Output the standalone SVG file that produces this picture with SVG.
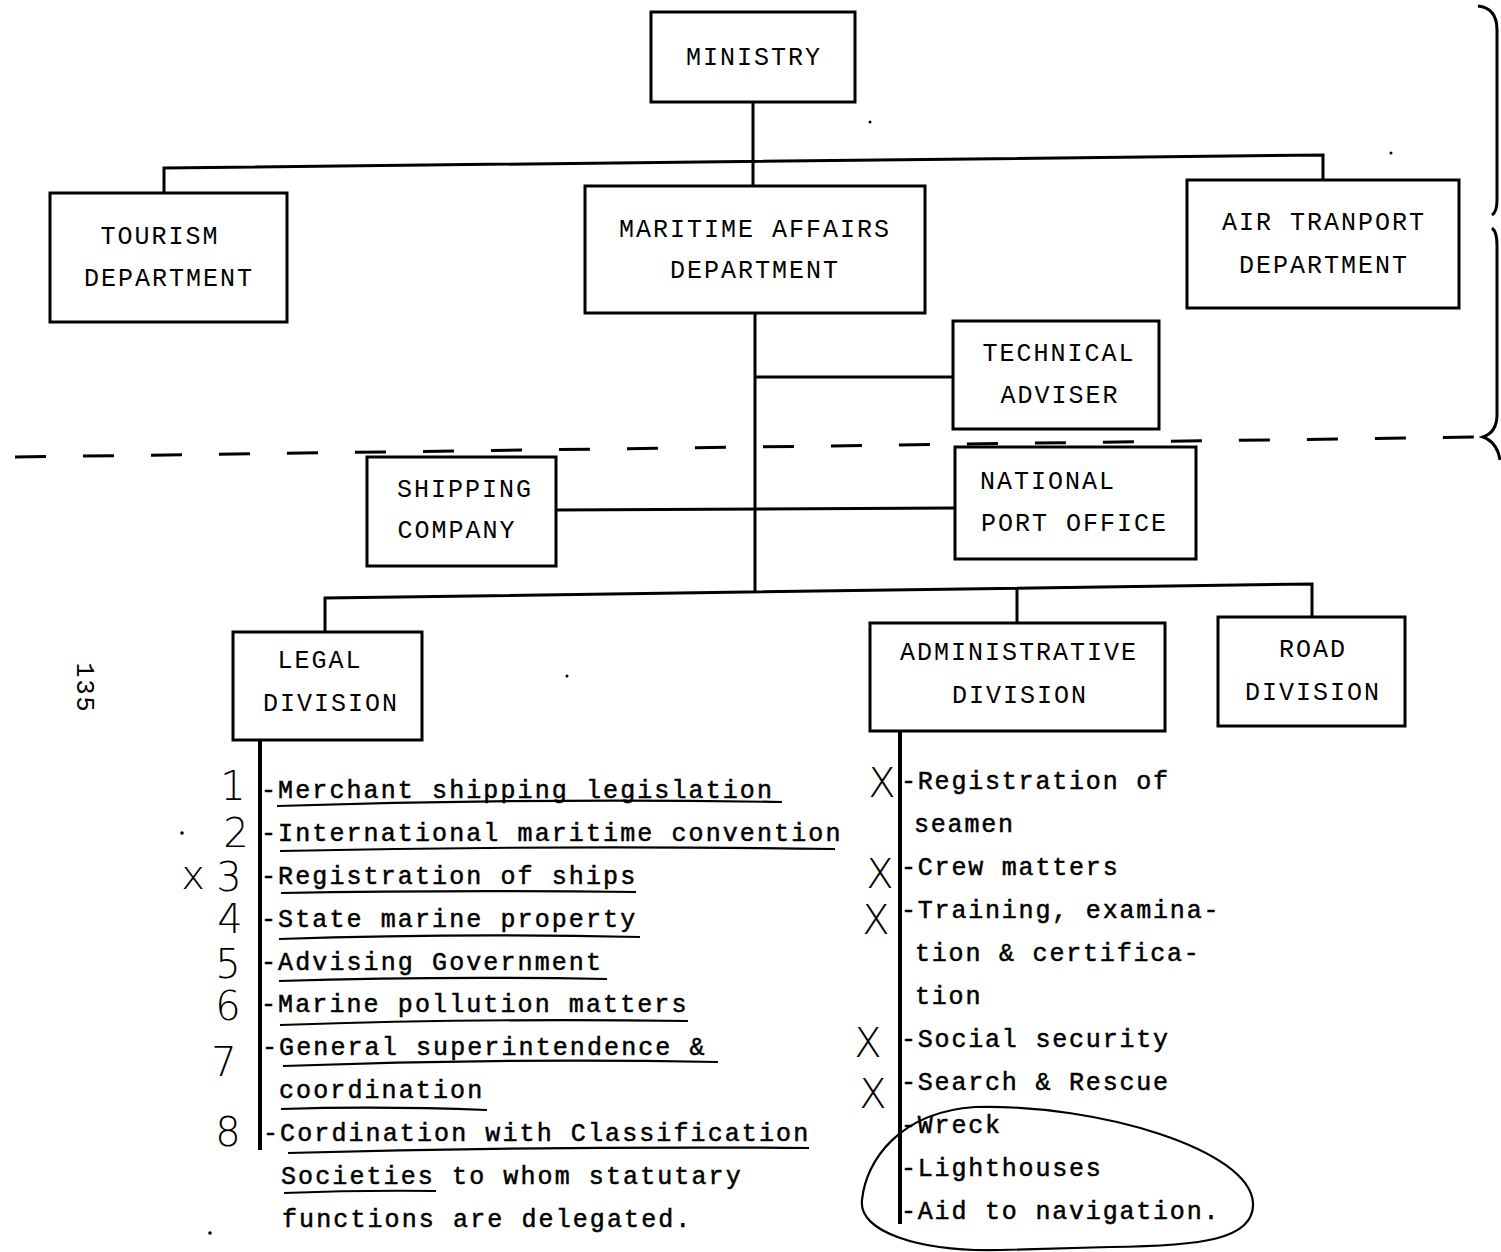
<svg xmlns="http://www.w3.org/2000/svg" width="1501" height="1252" viewBox="0 0 1501 1252">
<style>
.box{fill:none;stroke:#000;stroke-width:3}
.ln{fill:none;stroke:#000;stroke-width:3}
.lst{fill:none;stroke:#000;stroke-width:4}
.ul{fill:none;stroke:#000;stroke-width:2.2}
.bt{font-family:"Liberation Mono","DejaVu Sans Mono",monospace;font-size:25px;letter-spacing:2px;fill:#000;text-anchor:middle}
.bs{font-family:"Liberation Mono","DejaVu Sans Mono",monospace;font-size:25px;letter-spacing:2px;fill:#000}
.lt{font-family:"Liberation Mono","DejaVu Sans Mono",monospace;font-size:25px;letter-spacing:2.1px;fill:#000;stroke:#000;stroke-width:0.5}
.rt{font-family:"Liberation Mono","DejaVu Sans Mono",monospace;font-size:25px;letter-spacing:1.8px;fill:#000;stroke:#000;stroke-width:0.5}
.hw{font-family:"DejaVu Sans","Liberation Sans",sans-serif;font-weight:200;font-size:40px;fill:#000;text-anchor:middle}
</style>
<rect width="1501" height="1252" fill="#fff"/>
<g id="connectors">
<path class="ln" d="M753 102V186"/>
<path class="ln" d="M164 193V168L1323 155V180"/>
<path class="ln" d="M755 313V592"/>
<path class="ln" d="M755 377H953"/>
<path class="ln" d="M556 510L955 508"/>
<path class="ln" d="M325 632V598L1312 584V617"/>
<path class="ln" d="M1017 588V623"/>
<path class="lst" d="M260 740V1150"/>
<path class="lst" d="M900 731V1224"/>
</g>
<path id="divider" fill="none" stroke="#000" stroke-width="3" stroke-dasharray="31 37" d="M15 457L1482 437"/>
<path id="brace" fill="none" stroke="#000" stroke-width="3" d="M1478 6Q1497 8 1497 30V200Q1497 212 1492 215M1492 228Q1497 232 1497 245V415Q1497 432 1483 437Q1497 442 1500 460"/>
<g id="ministry"><rect class="box" x="651" y="12" width="204" height="90"/><text class="bt" x="754" y="65">MINISTRY</text></g>
<g id="tourism"><rect class="box" x="50" y="193" width="237" height="129"/><text class="bt" x="160" y="244">TOURISM</text><text class="bt" x="169" y="286">DEPARTMENT</text></g>
<g id="maritime"><rect class="box" x="585" y="186" width="340" height="127"/><text class="bt" x="755" y="237">MARITIME AFFAIRS</text><text class="bt" x="755" y="278">DEPARTMENT</text></g>
<g id="air"><rect class="box" x="1187" y="180" width="272" height="128"/><text class="bt" x="1324" y="230">AIR TRANPORT</text><text class="bt" x="1324" y="273">DEPARTMENT</text></g>
<g id="technical"><rect class="box" x="953" y="321" width="206" height="108"/><text class="bt" x="1059" y="361">TECHNICAL</text><text class="bt" x="1060" y="403">ADVISER</text></g>
<g id="shipping"><rect class="box" x="367" y="457" width="189" height="109"/><text class="bt" x="465" y="497">SHIPPING</text><text class="bt" x="457" y="538">COMPANY</text></g>
<g id="national"><rect class="box" x="955" y="447" width="241" height="112"/><text class="bs" x="980" y="489">NATIONAL</text><text class="bs" x="981" y="531">PORT OFFICE</text></g>
<g id="legal"><rect class="box" x="233" y="632" width="189" height="108"/><text class="bt" x="320" y="668">LEGAL</text><text class="bt" x="331" y="711">DIVISION</text></g>
<g id="admin"><rect class="box" x="870" y="623" width="295" height="108"/><text class="bt" x="1019" y="660">ADMINISTRATIVE</text><text class="bt" x="1020" y="703">DIVISION</text></g>
<g id="road"><rect class="box" x="1218" y="617" width="187" height="109"/><text class="bt" x="1313" y="657">ROAD</text><text class="bt" x="1313" y="700">DIVISION</text></g>
<g id="legal-list">
<text class="lt" x="261" y="798">-Merchant shipping legislation</text>
<text class="lt" x="261" y="841">-International maritime convention</text>
<text class="lt" x="261" y="884">-Registration of ships</text>
<text class="lt" x="261" y="927">-State marine property</text>
<text class="lt" x="261" y="970">-Advising Government</text>
<text class="lt" x="261" y="1012">-Marine pollution matters</text>
<text class="lt" x="262" y="1055">-General superintendence &amp;</text>
<text class="lt" x="279" y="1098">coordination</text>
<text class="lt" x="263" y="1141">-Cordination with Classification</text>
<text class="lt" x="281" y="1184">Societies to whom statutary</text>
<text class="lt" x="282" y="1227">functions are delegated.</text>
<path class="ul" d="M277 806Q530 798 782 802"/>
<path class="ul" d="M280 851Q560 845 835 849"/>
<path class="ul" d="M281 893Q450 890 636 892"/>
<path class="ul" d="M279 939Q460 933 640 937"/>
<path class="ul" d="M279 981Q440 976 607 979"/>
<path class="ul" d="M280 1025Q480 1018 688 1021"/>
<path class="ul" d="M283 1066Q500 1058 718 1062"/>
<path class="ul" d="M281 1109Q380 1106 487 1110"/>
<path class="ul" d="M288 1153Q550 1146 809 1148"/>
<path class="ul" d="M284 1193Q360 1190 436 1191"/>
</g>
<g id="admin-list">
<text class="rt" x="901" y="789">-Registration of</text>
<text class="rt" x="914" y="832">seamen</text>
<text class="rt" x="901" y="875">-Crew matters</text>
<text class="rt" x="901" y="918">-Training, examina-</text>
<text class="rt" x="915" y="961">tion &amp; certifica-</text>
<text class="rt" x="915" y="1004">tion</text>
<text class="rt" x="901" y="1047">-Social security</text>
<text class="rt" x="901" y="1090">-Search &amp; Rescue</text>
<text class="rt" x="901" y="1133">-Wreck</text>
<text class="rt" x="901" y="1176">-Lighthouses</text>
<text class="rt" x="901" y="1219">-Aid to navigation.</text>
<path class="ul" d="M975 1107C1100 1104 1250 1150 1253 1203C1255 1240 1200 1246 1110 1247L1000 1250C920 1252 858 1232 862 1200C866 1160 900 1112 975 1107Z"/>
</g>
<g id="annotations">
<text class="hw" x="233" y="800" font-size="26">1</text>
<text class="hw" x="236" y="847">2</text>
<text class="hw" x="193" y="889" font-size="22">x</text>
<text class="hw" x="229" y="891" font-size="34">3</text>
<text class="hw" x="230" y="933" font-size="34">4</text>
<text class="hw" x="228" y="978">5</text>
<text class="hw" x="228" y="1020">6</text>
<text class="hw" x="224" y="1076" font-size="46">7</text>
<text class="hw" x="228" y="1146">8</text>
<text class="hw" x="882" y="797" font-size="30">X</text>
<text class="hw" x="880" y="888" font-size="30">X</text>
<text class="hw" x="876" y="934" font-size="38">X</text>
<text class="hw" x="868" y="1057" font-size="36">X</text>
<text class="hw" x="873" y="1108" font-size="44">X</text>
<text class="bs" transform="translate(77 688) rotate(90)" text-anchor="middle" font-size="22" letter-spacing="2">135</text>
</g>
<g id="specks" fill="#000">
<circle cx="870" cy="122" r="1.5"/><circle cx="1391" cy="153" r="1.5"/><circle cx="182" cy="833" r="1.8"/><circle cx="567" cy="676" r="1.5"/><circle cx="210" cy="1233" r="1.8"/>
</g>
</svg>
